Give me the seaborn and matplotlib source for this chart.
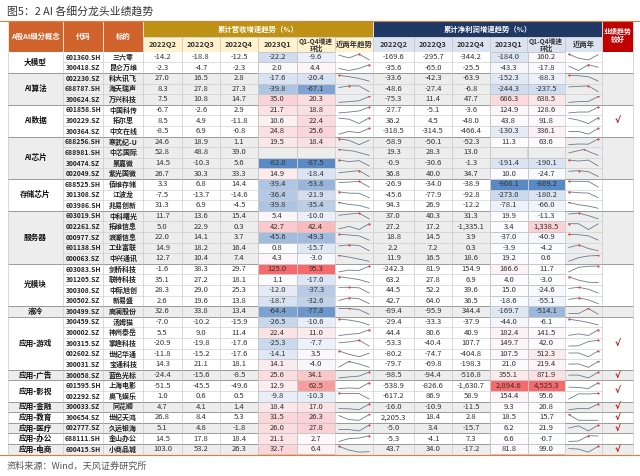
import numpy as np
import matplotlib.pyplot as plt
import seaborn as sns
from matplotlib.colors import LinearSegmentedColormap, TwoSlopeNorm
from matplotlib.patches import Rectangle

sns.set_theme(style="white")
plt.rcParams['font.family'] = ['Noto Sans CJK SC', 'DejaVu Sans']

nan = np.nan

concept = (["大模型"] * 2 + ["AI算法"] * 3 + ["AI数据"] * 3 + ["AI芯片"] * 4 + ["存储芯片"] * 3
           + ["服务器"] * 5 + ["光模块"] * 4 + ["液冷"] + ["应用-游戏"] * 5 + ["应用-广告"]
           + ["应用-影视"] * 2 + ["应用-金融", "应用-教育", "应用-医疗", "应用-办公", "应用-电商"])
good_groups = ["AI数据", "应用-游戏", "应用-广告", "应用-影视", "应用-金融", "应用-教育", "应用-医疗", "应用-电商"]

codes = ["601360.SH", "300418.SZ", "002230.SZ", "688787.SH", "300624.SZ", "601858.SH", "300229.SZ",
         "300364.SZ", "688256.SH", "688981.SH", "300474.SZ", "002049.SZ", "688525.SH", "301308.SZ",
         "603986.SH", "603019.SH", "002261.SZ", "000977.SZ", "601138.SH", "000063.SZ", "603083.SH",
         "301205.SZ", "300308.SZ", "300502.SZ", "300499.SZ", "300459.SZ", "300002.SZ", "300315.SZ",
         "002602.SZ", "300031.SZ", "300058.SZ", "601595.SH", "002292.SZ", "300033.SZ", "300654.SZ",
         "002777.SZ", "688111.SH", "600415.SH"]
names = ["三六零", "昆仑万维", "科大讯飞", "海天瑞声", "万兴科技", "中国科传", "拓尔思", "中文在线",
         "寒武纪-U", "中芯国际", "景嘉微", "紫光国微", "佰维存储", "江波龙", "兆易创新", "中科曙光",
         "拓维信息", "浪潮信息", "工业富联", "中兴通讯", "剑桥科技", "联特科技", "中际旭创", "新易盛",
         "高澜股份", "汤姆猫", "神州泰岳", "掌趣科技", "世纪华通", "宝通科技", "蓝色光标", "上海电影",
         "奥飞娱乐", "同花顺", "世纪天鸿", "久远银海", "金山办公", "小商品城"]

quarters = ["2022Q2", "2022Q3", "2022Q4", "2023Q1"]

# cumulative revenue growth (%)
rev_22q2 = [-14.2, -2.3, 27.0, 8.3, 7.5, -6.7, 8.5, -8.5, 24.6, 52.8, 14.5, 26.7, 3.3, -7.5, 31.3,
            11.7, 5.0, 22.0, 14.9, 12.7, -1.6, 35.1, 28.3, 2.6, 32.6, -7.0, 5.5, -20.9, -11.8, 14.3,
            -24.4, -51.5, 1.0, 4.7, 26.8, 5.1, 14.5, 103.0]
rev_22q3 = [-18.8, -4.7, 16.5, 27.8, 10.8, -2.6, 4.9, 6.9, 18.9, 48.8, -10.3, 30.3, 6.8, -13.7, 6.9,
            13.6, 22.9, 14.1, 18.2, 10.4, 38.3, 27.2, 29.0, 19.6, 33.8, -10.2, 9.0, -19.8, -15.2, 21.1,
            -15.6, -45.5, 0.6, 4.1, 8.4, 4.8, 17.8, 53.2]
rev_22q4 = [-12.5, -2.3, 2.8, 27.3, 14.7, 2.9, -11.8, -0.8, 1.1, 39.0, 5.6, 33.3, 14.4, -14.6, -4.5,
            15.4, 0.3, 3.7, 16.4, 7.4, 29.7, 18.1, 25.3, 13.8, 13.4, -15.9, 11.4, -17.6, -17.6, 18.1,
            -8.5, -49.6, 0.5, 1.4, 5.3, -1.8, 18.4, 26.3]
rev_23q1 = [-22.2, 2.0, -17.6, -39.8, 35.0, 21.7, 10.6, 24.8, 19.5, nan, -82.0, 14.9, -39.4, -36.4, -39.8,
            5.4, 42.7, -45.6, 0.8, 4.3, 125.0, 1.1, -12.0, -18.7, -64.4, -26.5, 22.4, -25.3, -14.1, 14.1,
            25.6, 12.9, -9.8, 18.4, 31.5, 26.0, 21.1, 32.7]
rev_qoq = [-9.6, 4.4, -20.4, -67.1, 20.3, 18.8, 22.4, 25.6, 18.4, nan, -87.5, -18.4, -53.8, -21.9, -35.4,
           -10.0, 42.4, -49.3, -15.7, -3.0, 95.3, -17.0, -37.3, -32.6, -77.8, -10.6, 11.0, -7.7, 3.5, -4.0,
           34.1, 62.5, -10.3, 17.0, 26.3, 27.8, 2.7, 6.4]

# cumulative net profit growth (%)
np_22q2 = [-169.6, -35.6, -33.6, -48.6, -75.3, -27.7, 36.2, -318.5, -58.9, 19.3, -0.9, 36.8, -26.9, -45.6,
           94.3, 37.0, 27.2, 18.8, 2.2, 11.9, -242.3, 63.2, 44.5, 42.7, -89.4, -29.4, 44.4, -53.3, -80.2,
           -79.7, -98.5, -538.9, -617.2, -16.0, 2205.3, -5.0, -5.3, 43.7]
np_22q3 = [-295.7, -65.0, -42.3, -27.4, 11.4, -5.1, 4.5, -314.5, -50.1, 28.3, -30.6, 40.0, -34.0, -77.9,
           26.9, 40.3, 17.2, 14.5, 7.2, 16.5, 81.9, 27.8, 52.2, 64.0, -95.9, -33.3, 80.6, -40.4, -74.7,
           -69.8, -94.4, -826.6, 86.9, -10.9, 18.4, 3.4, -4.1, 34.0]
np_22q4 = [-344.2, -25.5, -63.9, -6.8, 47.7, -3.6, -48.0, -466.4, -52.3, 13.0, -1.3, 34.7, -38.9, -92.8,
           -12.2, 31.3, -1335.1, 3.9, 0.3, 18.6, 154.9, 6.9, 39.6, 36.5, 344.4, -37.9, 40.9, 107.7, -404.8,
           -198.3, -516.8, -1630.7, 58.9, -11.5, 2.8, -15.7, 7.3, -17.2]
np_23q1 = [-184.0, -43.3, -152.3, -244.3, 686.3, 124.9, 43.8, -130.3, 11.3, nan, -191.4, 10.0, -908.1, -273.0,
           -78.1, 19.9, 3.4, -37.0, -3.9, 19.2, 166.6, 4.0, 15.0, -18.6, -169.7, -44.0, 182.4, 149.7, 107.5,
           21.0, 355.1, 2894.6, 154.4, 9.3, 18.5, 6.2, 6.6, 81.8]
np_qoq = [160.2, -17.8, -88.3, -237.5, 638.5, 128.6, 91.8, 336.1, 63.6, nan, -190.1, -24.7, -869.2, -180.2,
          -66.0, -11.3, 1338.5, -40.9, -4.2, 0.6, 11.7, -3.0, -24.6, -55.1, -514.1, -6.1, 141.5, 42.0, 512.3,
          219.4, 871.9, 4525.3, 95.6, 20.8, 15.7, 21.9, -0.7, 99.0]

# ---- layout (pixels) ----
W, H = 640, 476
X = [8, 63, 103, 143, 182, 220, 258, 297, 335, 373, 414, 452, 490, 527, 565, 602, 633]
Y_TOP, Y_MID, Y0, RH = 20.7, 37.3, 51.7, 10.6
n = len(codes)
Y_END = Y0 + n * RH

ORANGE, GOLD, NAVY, RED = "#D0632B", "#BF9115", "#1F3864", "#C00000"
CREAM, LBLUE, GREY = "#FFF2CC", "#DCE3F0", "#EDEDED"
TXT = "#333333"
FS = 5.5

fig = plt.figure(figsize=(W / 100, H / 100), dpi=100)
ax = fig.add_axes([0, 0, 1, 1])
ax.set_xlim(0, W)
ax.set_ylim(H, 0)
ax.axis("off")


def cx(i):
    return (X[i] + X[i + 1]) / 2


def ry(r):
    return Y0 + (r + 0.5) * RH


# title / source
ax.text(7, 11, "图5：2 AI 各细分龙头业绩趋势", fontsize=7.8, color=TXT, va="center", ha="left")
ax.text(7, 466, "资料来源：Wind，天风证券研究所", fontsize=6.6, color="#555555", va="center", ha="left")
ax.plot([0, W], [20.5, 20.5], color="#E07B39", lw=0.8)
ax.plot([0, W], [Y_END + 0.3, Y_END + 0.3], color="#E07B39", lw=0.8)

# header
for i, lab in enumerate(["A股AI细分概念", "代码", "标的"]):
    ax.add_patch(Rectangle((X[i], Y_TOP), X[i + 1] - X[i], Y0 - Y_TOP, fc=ORANGE, ec="white", lw=0.5))
    ax.text(cx(i), (Y_TOP + Y0) / 2, lab, color="white", fontsize=5.3, fontweight="bold", ha="center", va="center")
ax.add_patch(Rectangle((X[3], Y_TOP), X[9] - X[3], Y_MID - Y_TOP, fc=GOLD, ec="white", lw=0.5))
ax.text((X[3] + X[9]) / 2, (Y_TOP + Y_MID) / 2, "累计营收增速趋势（%）", color="white", fontsize=5.3,
        fontweight="bold", ha="center", va="center")
ax.add_patch(Rectangle((X[9], Y_TOP), X[15] - X[9], Y_MID - Y_TOP, fc=NAVY, ec="white", lw=0.5))
ax.text((X[9] + X[15]) / 2, (Y_TOP + Y_MID) / 2, "累计净利润增速趋势（%）", color="white", fontsize=5.3,
        fontweight="bold", ha="center", va="center")
ax.add_patch(Rectangle((X[15], Y_TOP), X[16] - X[15], Y0 - Y_TOP, fc=RED, ec="white", lw=0.5))
ax.text(cx(15), (Y_TOP + Y0) / 2 - 1, "业绩趋势\n较好", color="white", fontsize=5.0, fontweight="bold",
        ha="center", va="center", linespacing=1.2)

sub_labels = quarters + ["Q1-Q4增速\n环比", "近两年趋势"] + quarters + ["Q1-Q4增速\n环比", "近两年"]
for k, lab in enumerate(sub_labels):
    i = 3 + k
    fc = CREAM if i < 9 else LBLUE
    ax.add_patch(Rectangle((X[i], Y_MID), X[i + 1] - X[i], Y0 - Y_MID, fc=fc, ec="#BFBFBF", lw=0.4))
    fs = 4.8 if "\n" in lab else 5.3
    ax.text(cx(i), (Y_MID + Y0) / 2, lab, color=TXT, fontsize=fs, fontweight="bold", ha="center",
            va="center", linespacing=1.0)

# group backgrounds, labels and check marks
groups = []
start = 0
for r in range(1, n + 1):
    if r == n or concept[r] != concept[start]:
        groups.append((concept[start], start, r))
        start = r
for g, (name, a, b) in enumerate(groups):
    fc = GREY if g % 2 else "white"
    ax.add_patch(Rectangle((X[0], Y0 + a * RH), X[-1] - X[0], (b - a) * RH, fc=fc, ec="none"))
    ymid = Y0 + (a + b) / 2 * RH
    ax.text(cx(0), ymid, name, fontsize=FS, fontweight="bold", color="#111111", ha="center", va="center")
    if name in good_groups:
        ax.text(cx(15), ymid, "√", fontsize=6.5, fontweight="bold", color=RED, ha="center", va="center",
                family=["DejaVu Sans"])

# plain value columns
plain_cols = {3: rev_22q2, 4: rev_22q3, 5: rev_22q4, 9: np_22q2, 10: np_22q3, 11: np_22q4}
for r in range(n):
    ax.text(cx(1), ry(r), codes[r], fontsize=4.9, fontweight="bold", color="#222222", ha="center", va="center")
    ax.text(cx(2), ry(r), names[r], fontsize=5.0, fontweight="bold", color="#222222", ha="center", va="center")
    for i, vals in plain_cols.items():
        ax.text(cx(i), ry(r), f"{vals[r]:,.1f}", fontsize=FS, color=TXT, ha="center", va="center")

# grid lines
for r in range(1, n):
    if concept[r] != concept[r - 1]:
        ax.plot([X[0], X[-1]], [Y0 + r * RH] * 2, color="#8C8C8C", lw=0.6, zorder=3)
    else:
        ax.plot([X[1], X[-2]], [Y0 + r * RH] * 2, color="#C8C8C8", lw=0.4, zorder=3)
for x in X:
    ax.plot([x, x], [Y0, Y_END], color="#BFBFBF", lw=0.4, zorder=3)

# heat-coloured columns (each column with its own diverging scale centred on 0)
cmap = LinearSegmentedColormap.from_list("excel3", ["#5A8AC6", "#FCFCFF", "#F8696B"])


def heat_block(cols, x0, x1):
    raw = np.array(cols, dtype=float).T
    scaled = np.full_like(raw, np.nan)
    for j in range(raw.shape[1]):
        col = raw[:, j]
        norm = TwoSlopeNorm(vmin=np.nanmin(col), vcenter=0, vmax=np.nanmax(col))
        ok = ~np.isnan(col)
        scaled[ok, j] = norm(col[ok])
    labels = np.where(np.isnan(raw), "", np.vectorize(lambda v: f"{v:,.1f}")(np.nan_to_num(raw)))
    hax = fig.add_axes([x0 / W, 1 - Y_END / H, (x1 - x0) / W, (Y_END - Y0) / H])
    sns.heatmap(scaled, ax=hax, cmap=cmap, vmin=0, vmax=1, cbar=False, annot=labels, fmt="",
                annot_kws=dict(fontsize=FS, color=TXT), linewidths=0.4, linecolor="#C8C8C8",
                xticklabels=False, yticklabels=False)
    hax.patch.set_alpha(0)


heat_block([rev_23q1, rev_qoq], X[6], X[8])
heat_block([np_23q1, np_qoq], X[12], X[14])

# sparklines of the four quarters
rev_rows = np.array([rev_22q2, rev_22q3, rev_22q4, rev_23q1]).T
np_rows = np.array([np_22q2, np_22q3, np_22q4, np_23q1]).T
for series, i in [(rev_rows, 8), (np_rows, 14)]:
    for r in range(n):
        vals = series[r]
        sax = fig.add_axes([(X[i] + 2.5) / W, 1 - (Y0 + (r + 1) * RH - 1.5) / H,
                            (X[i + 1] - X[i] - 5) / W, (RH - 3) / H])
        xs = np.arange(len(vals))
        sax.plot(xs, vals, color="#6B7B8C", lw=0.6)
        k = int(np.nanargmax(vals))
        sax.plot(xs[k], vals[k], "o", color="#E04040", ms=1.6, mew=0)
        sax.margins(x=0.04, y=0.15)
        sax.axis("off")
        sax.patch.set_alpha(0)

fig.savefig("out.png", dpi=100)
